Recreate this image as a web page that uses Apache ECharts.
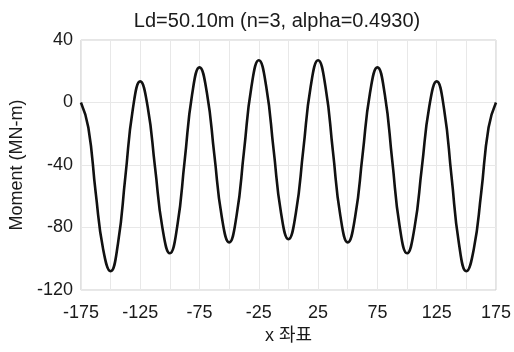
<!DOCTYPE html>
<html>
<head>
<meta charset="utf-8">
<script src="https://cdn.jsdelivr.net/npm/echarts@6/dist/echarts.min.js"></script>
<style>html,body{margin:0;padding:0;background:#fff;}#c{width:514px;height:352px;}</style>
</head>
<body>
<div id="c"></div>
<script>
var titleText = "Ld=50.10m (n=3, alpha=0.4930)";
var xName = "x 좌표";
var yName = "Moment (MN-m)";
var xPos = [-175,-168.75,-162.5,-156.25,-150,-143.75,-137.5,-131.25,-125,-118.75,-112.5,-106.25,-100,-93.75,-87.5,-81.25,-75,-68.75,-62.5,-56.25,-50,-43.75,-37.5,-31.25,-25,-18.75,-12.5,-6.25,0,6.25,12.5,18.75,25,31.25,37.5,43.75,50,56.25,62.5,68.75,75,81.25,87.5,93.75,100,106.25,112.5,118.75,125,131.25,137.5,143.75,150,156.25,162.5,168.75,175];
var moment = [0,-16,-58,-94,-108,-90.2,-47.3,-4.3,13.5,-2.6,-41.5,-80.4,-96.5,-79.1,-37,5.1,22.5,6.1,-33.5,-73.1,-89.5,-72.4,-31.3,9.9,27,10.2,-30.3,-70.7,-87.5,-70.7,-30.3,10.2,27,9.9,-31.3,-72.4,-89.5,-73.1,-33.5,6.1,22.5,5.1,-37,-79.1,-96.5,-80.4,-41.5,-2.6,13.5,-4.3,-47.3,-90.2,-108,-94,-58,-16,0];
var font = "'Liberation Sans', Arial, 'Noto Sans CJK KR', sans-serif";
var chart = echarts.init(document.getElementById('c'));
var data = xPos.map(function(x,i){return [x, moment[i]];});
chart.setOption({
  animation:false,
  backgroundColor:'#fff',
  title:{text:titleText,left:272,textAlign:'center',top:6,textStyle:{fontFamily:font,fontSize:20,fontWeight:'normal',color:'#1a1a1a'}},
  grid:{left:78,right:17,top:40,bottom:62,show:true,borderColor:'#cccccc',borderWidth:1},
  xAxis:{type:'value',min:-175,max:175,interval:25,
    name:xName,nameLocation:'middle',nameGap:33,
    nameTextStyle:{fontFamily:font,fontSize:18,color:'#1a1a1a'},
    axisLine:{show:false},axisTick:{show:false},
    axisLabel:{fontFamily:font,fontSize:18,color:'#1a1a1a',margin:14,
      formatter:function(v){return ((v+175)%50===0)?String(v):'';}},
    splitLine:{show:true,lineStyle:{color:'#e8e8e8',width:1}}},
  yAxis:{type:'value',min:-120,max:40,interval:40,
    name:yName,nameLocation:'middle',nameGap:52,
    nameTextStyle:{fontFamily:font,fontSize:18,color:'#1a1a1a'},
    axisLine:{show:false},axisTick:{show:false},
    axisLabel:{fontFamily:font,fontSize:18,color:'#1a1a1a',margin:8},
    splitLine:{show:true,lineStyle:{color:'#e8e8e8',width:1}}},
  series:[{type:'line',data:data,smooth:true,showSymbol:false,
    lineStyle:{color:'#111',width:2.6}}]
});
</script>
</body>
</html>
